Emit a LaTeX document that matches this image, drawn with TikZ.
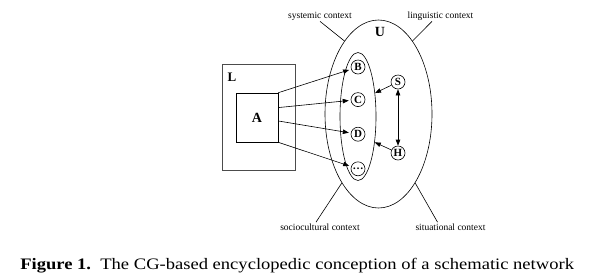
\documentclass[tikz,border=0pt]{standalone}
\usepackage{fontspec}
\setmainfont{Liberation Serif}
\newfontfamily\capfont{Liberation Serif}[FakeStretch=1.16]
\usepackage{tikz}
\usetikzlibrary{shapes.geometric, arrows.meta, positioning, calc}
\tikzstyle{point} = [circle, draw, minimum size=14pt, inner sep=0pt, font=\bfseries\fontsize{11}{11}\selectfont]
\tikzstyle{arrow} = [-{Triangle[length=6pt,width=4.5pt]}]
\tikzstyle{tag} = [anchor=base, inner sep=1pt, font=\fontsize{9.5}{11}\selectfont]
\tikzstyle{oval} = [ellipse, draw, inner sep=0pt]

\begin{document}
\begin{tikzpicture}[x=1pt, y=-1pt, line width=0.6pt]
  \useasboundingbox (0,0) rectangle (601,277);
  % the two boxes
  \node[draw=black!70, minimum width=73pt, minimum height=106pt] (L) at (258.5,117) {};
  \node[font=\bfseries\fontsize{13}{13}\selectfont] (Ltag) at (232,77.5) {L};
  \node[draw, minimum width=42pt, minimum height=49pt, font=\bfseries\fontsize{14}{14}\selectfont] (A) at (257,117.5) {A};
  % the two ellipses
  \node[oval, minimum width=107pt, minimum height=188pt] (outer) at (378.5,114) {};
  \node[font=\bfseries\fontsize{14}{14}\selectfont] (U) at (380,31.5) {U};
  \node[oval, minimum width=36pt, minimum height=128pt] (inner) at (358,116.5) {};
  \node[point] (B) at (358,67) {B};
  \node[point, below=18pt of B] (C) {C};
  \node[point, below=20pt of C] (D) {D};
  \node[point, below=20pt of D] (E) {\raisebox{-2.5pt}{\dots}};
  \node[point] (S) at (398,82) {S};
  \node[point] (H) at (398,153) {H};
  % context labels
  \node[tag] (sys) at (320,18) {systemic context};
  \node[tag] (ling) at (440.5,18) {linguistic context};
  \node[tag] (socio) at (320,230) {sociocultural context};
  \node[tag] (situ) at (450.5,230) {situational context};
  \draw (sys.south) -- (outer.115);
  \draw ([xshift=-8.5pt]ling.south) -- (outer.65);
  \draw ([xshift=-4pt]socio.north) -- (outer.-118);
  \draw ([xshift=-13pt]situ.north) -- (outer.-62);
  % arrows
  \draw[arrow, shorten >=2pt] (A.north east) -- (B);
  \draw[arrow, shorten >=2pt] ($(A.north east)!0.3!(A.south east)$) -- (C);
  \draw[arrow, shorten >=2pt] ($(A.north east)!0.57!(A.south east)$) -- (D);
  \draw[arrow, shorten >=2pt] (A.south east) -- (E);
  \draw[arrow] (S) -- (inner.54);
  \draw[arrow] (H) -- (inner.-57);
  \draw[{Triangle[length=6pt,width=4.5pt]}-{Triangle[length=6pt,width=4.5pt]}] (S) -- (H);
  % caption
  \node[anchor=base west, inner sep=0pt, font=\capfont\fontsize{16}{19}\selectfont] (caption) at (20,269)
    {\textbf{Figure 1.}\ \ The CG-based encyclopedic conception of a schematic network};
\end{tikzpicture}
\end{document}
